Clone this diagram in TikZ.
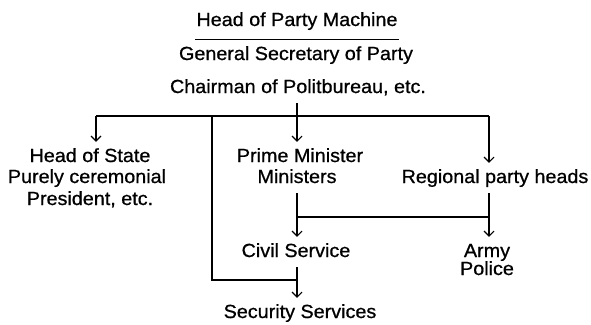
\documentclass[tikz,border=0pt]{standalone}
\usepackage{fontspec}
\setmainfont{Liberation Sans}[FakeStretch=1.04, FakeBold=0.8]
\usepackage{tikz}
\usetikzlibrary{arrows.meta, positioning}

\tikzset{
    post/.style={font=\fontsize{19}{21}\selectfont, anchor=base,
        inner xsep=1pt, inner ysep=6pt, text height=14pt, text depth=4pt},
    link/.style={line width=1.2pt},
    arr/.style={link, -{Straight Barb[length=5pt,width=10pt,line width=1.1pt]}}
}

\begin{document}
\begin{tikzpicture}[x=1pt, y=-1pt]
    \useasboundingbox (0,0) rectangle (591,324);

    % Party machine at the top
    \node[post] (machine) at (297,26) {Head of Party Machine};
    \node[post] (gensec) at (296,60) {General Secretary of Party};
    \node[post] (chairman) at (298,93) {Chairman of Politbureau, etc.};
    \draw[link] ([yshift=-3pt]machine.south west) -- ([yshift=-3pt]machine.south east);

    % Second row
    \node[post] (state) at (90,162) {Head of State};
    \node[post] (ceremonial) at (87,183) {Purely ceremonial};
    \node[post] (president) at (90,205) {President, etc.};
    \node[post] (pm) at (300,162) {Prime Minister};
    \node[post] (ministers) at (297,183) {Ministers};
    \node[post] (regional) at (495,183) {Regional party heads};

    % Third row
    \node[post] (civil) at (296,257) {Civil Service};
    \node[post] (army) at (487,257) {Army};
    \node[post] (police) at (487,275) {Police};
    \node[post] (security) at (300,318) {Security Services};

    % Bars joining the arrows
    \coordinate (barL) at (96,116);
    \coordinate (barM) at (212,116);
    \coordinate (barR) at (489,116);
    \coordinate (lowL) at (297,217);
    \coordinate (lowR) at (489,217);
    \coordinate (secjoin) at (297,280);

    \draw[link] (barL) -- (barR);
    \draw[arr] (chairman.south -| ministers) -- (pm.north -| ministers);
    \draw[arr] (barL) -- (barL |- state.north);
    \draw[arr] (barR) -- (barR |- regional.north);
    \draw[link] (barM) |- (secjoin);

    \draw[link] (lowL) -- (lowR);
    \draw[arr] (ministers.south) -- (ministers.south |- civil.north);
    \draw[arr] (lowR |- regional.south) -- (lowR |- army.north);
    \draw[arr] (civil.south -| ministers) -- (security.north -| ministers);
\end{tikzpicture}
\end{document}
